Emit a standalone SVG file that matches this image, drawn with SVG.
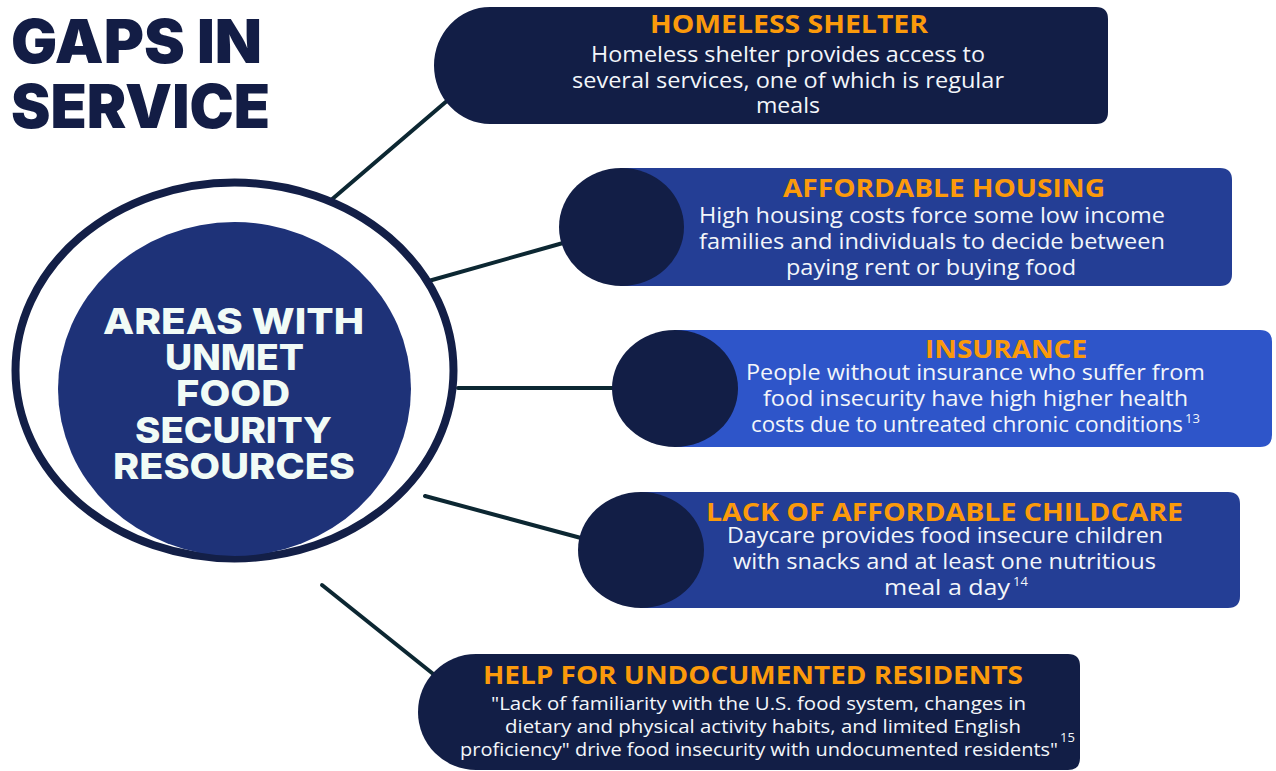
<svg xmlns="http://www.w3.org/2000/svg" width="1276" height="771" viewBox="0 0 1276 771">
  <style>
    .title { font-family: Inter, "Liberation Sans", sans-serif; font-weight: 900; font-size: 60px; fill: #131d45; }
    .hub { font-family: Inter, "Liberation Sans", sans-serif; font-weight: 800; font-size: 36px; fill: #f1fbf6; text-anchor: middle; }
    .head { font-family: "Open Sans", "Liberation Sans", sans-serif; font-weight: 700; font-size: 25px; fill: #fb9a0b; text-anchor: middle; }
    .body { font-family: "Open Sans", "Liberation Sans", sans-serif; font-weight: 400; font-size: 21px; fill: #f3f6fa; text-anchor: middle; }
    .small { font-size: 19px; }
    .sup { font-family: "Open Sans", "Liberation Sans", sans-serif; font-size: 13px; fill: #f3f6fa; }
    .link { stroke: #0c2732; stroke-width: 4; fill: none; stroke-linecap: round; }
    .navy { fill: #121e46; }
    .blue { fill: #243e95; }
    .bright { fill: #2e55c9; }
  </style>

  <!-- heading -->
  <g id="title">
    <text class="title" x="11" y="63" textLength="251" lengthAdjust="spacingAndGlyphs">GAPS IN</text>
    <text class="title" x="11" y="128" textLength="259" lengthAdjust="spacingAndGlyphs">SERVICE</text>
  </g>

  <!-- spokes from the hub to each card -->
  <g id="connectors">
    <line class="link" x1="330" y1="201" x2="448" y2="100"/>
    <line class="link" x1="425" y1="282" x2="563" y2="243"/>
    <line class="link" x1="458" y1="388" x2="614" y2="388"/>
    <line class="link" x1="425" y1="496" x2="581" y2="538"/>
    <line class="link" x1="322" y1="585" x2="437" y2="677"/>
  </g>

  <!-- central hub -->
  <g id="hub">
    <ellipse cx="234.5" cy="370.5" rx="219" ry="188" fill="#ffffff" stroke="#131f47" stroke-width="8"/>
    <ellipse cx="234.5" cy="389" rx="176.5" ry="167" fill="#1e3278"/>
    <text class="hub" x="233.5" y="334" textLength="261" lengthAdjust="spacingAndGlyphs">AREAS WITH</text>
    <text class="hub" x="234.5" y="370" textLength="139" lengthAdjust="spacingAndGlyphs">UNMET</text>
    <text class="hub" x="233" y="406" textLength="114" lengthAdjust="spacingAndGlyphs">FOOD</text>
    <text class="hub" x="233.5" y="443" textLength="197" lengthAdjust="spacingAndGlyphs">SECURITY</text>
    <text class="hub" x="234" y="479" textLength="242" lengthAdjust="spacingAndGlyphs">RESOURCES</text>
  </g>

  <!-- card: homeless shelter -->
  <g id="homeless-shelter">
    <path class="navy" d="M490 7 H1096 Q1108 7 1108 19 V112 Q1108 124 1096 124 H490 A56 58.5 0 0 1 434 65.5 A56 58.5 0 0 1 490 7 Z"/>
    <text class="head" x="789" y="33" textLength="278" lengthAdjust="spacingAndGlyphs">HOMELESS SHELTER</text>
    <text class="body" x="788" y="62" textLength="394" lengthAdjust="spacingAndGlyphs">Homeless shelter provides access to</text>
    <text class="body" x="788" y="88" textLength="432" lengthAdjust="spacingAndGlyphs">several services, one of which is regular</text>
    <text class="body" x="788" y="113" textLength="64" lengthAdjust="spacingAndGlyphs">meals</text>
  </g>

  <!-- card: affordable housing -->
  <g id="affordable-housing">
    <path class="blue" d="M620 168 H1220 Q1232 168 1232 180 V274 Q1232 286 1220 286 H620 Z"/>
    <ellipse class="navy" cx="621.5" cy="227" rx="62.5" ry="59"/>
    <text class="head" x="944" y="197" textLength="322" lengthAdjust="spacingAndGlyphs">AFFORDABLE HOUSING</text>
    <text class="body" x="932" y="223" textLength="466" lengthAdjust="spacingAndGlyphs">High housing costs force some low income</text>
    <text class="body" x="932" y="249" textLength="466" lengthAdjust="spacingAndGlyphs">families and individuals to decide between</text>
    <text class="body" x="931" y="275" textLength="290" lengthAdjust="spacingAndGlyphs">paying rent or buying food</text>
  </g>

  <!-- card: insurance -->
  <g id="insurance">
    <path class="bright" d="M674 330 H1260 Q1272 330 1272 342 V435 Q1272 447 1260 447 H674 Z"/>
    <ellipse class="navy" cx="675" cy="388.5" rx="63" ry="58.5"/>
    <text class="head" x="1006" y="358" textLength="162" lengthAdjust="spacingAndGlyphs">INSURANCE</text>
    <text class="body" x="975.5" y="380" textLength="459" lengthAdjust="spacingAndGlyphs">People without insurance who suffer from</text>
    <text class="body" x="975.5" y="406" textLength="425" lengthAdjust="spacingAndGlyphs">food insecurity have high higher health</text>
    <text class="body" x="967" y="432" textLength="432" lengthAdjust="spacingAndGlyphs">costs due to untreated chronic conditions</text>
    <text class="sup" x="1185" y="423">13</text>
  </g>

  <!-- card: childcare -->
  <g id="childcare">
    <path class="blue" d="M640 492 H1228 Q1240 492 1240 504 V596 Q1240 608 1228 608 H640 Z"/>
    <ellipse class="navy" cx="641" cy="550" rx="63" ry="58"/>
    <text class="head" x="944.5" y="521" textLength="477" lengthAdjust="spacingAndGlyphs">LACK OF AFFORDABLE CHILDCARE</text>
    <text class="body" x="945" y="543" textLength="436" lengthAdjust="spacingAndGlyphs">Daycare provides food insecure children</text>
    <text class="body" x="944.5" y="569" textLength="423" lengthAdjust="spacingAndGlyphs">with snacks and at least one nutritious</text>
    <text class="body" x="947" y="595" textLength="126" lengthAdjust="spacingAndGlyphs">meal a day</text>
    <text class="sup" x="1013" y="586">14</text>
  </g>

  <!-- card: undocumented residents -->
  <g id="undocumented-residents">
    <path class="navy" d="M476 654 H1068 Q1080 654 1080 666 V758 Q1080 770 1068 770 H476 A58 58 0 0 1 418 712 A58 58 0 0 1 476 654 Z"/>
    <text class="head" x="753" y="684" textLength="540" lengthAdjust="spacingAndGlyphs">HELP FOR UNDOCUMENTED RESIDENTS</text>
    <text class="body small" x="758.5" y="710" textLength="535" lengthAdjust="spacingAndGlyphs">"Lack of familiarity with the U.S. food system, changes in</text>
    <text class="body small" x="763" y="733" textLength="516" lengthAdjust="spacingAndGlyphs">dietary and physical activity habits, and limited English</text>
    <text class="body small" x="759" y="756" textLength="598" lengthAdjust="spacingAndGlyphs">proficiency" drive food insecurity with undocumented residents"</text>
    <text class="sup" x="1060" y="742">15</text>
  </g>
</svg>
